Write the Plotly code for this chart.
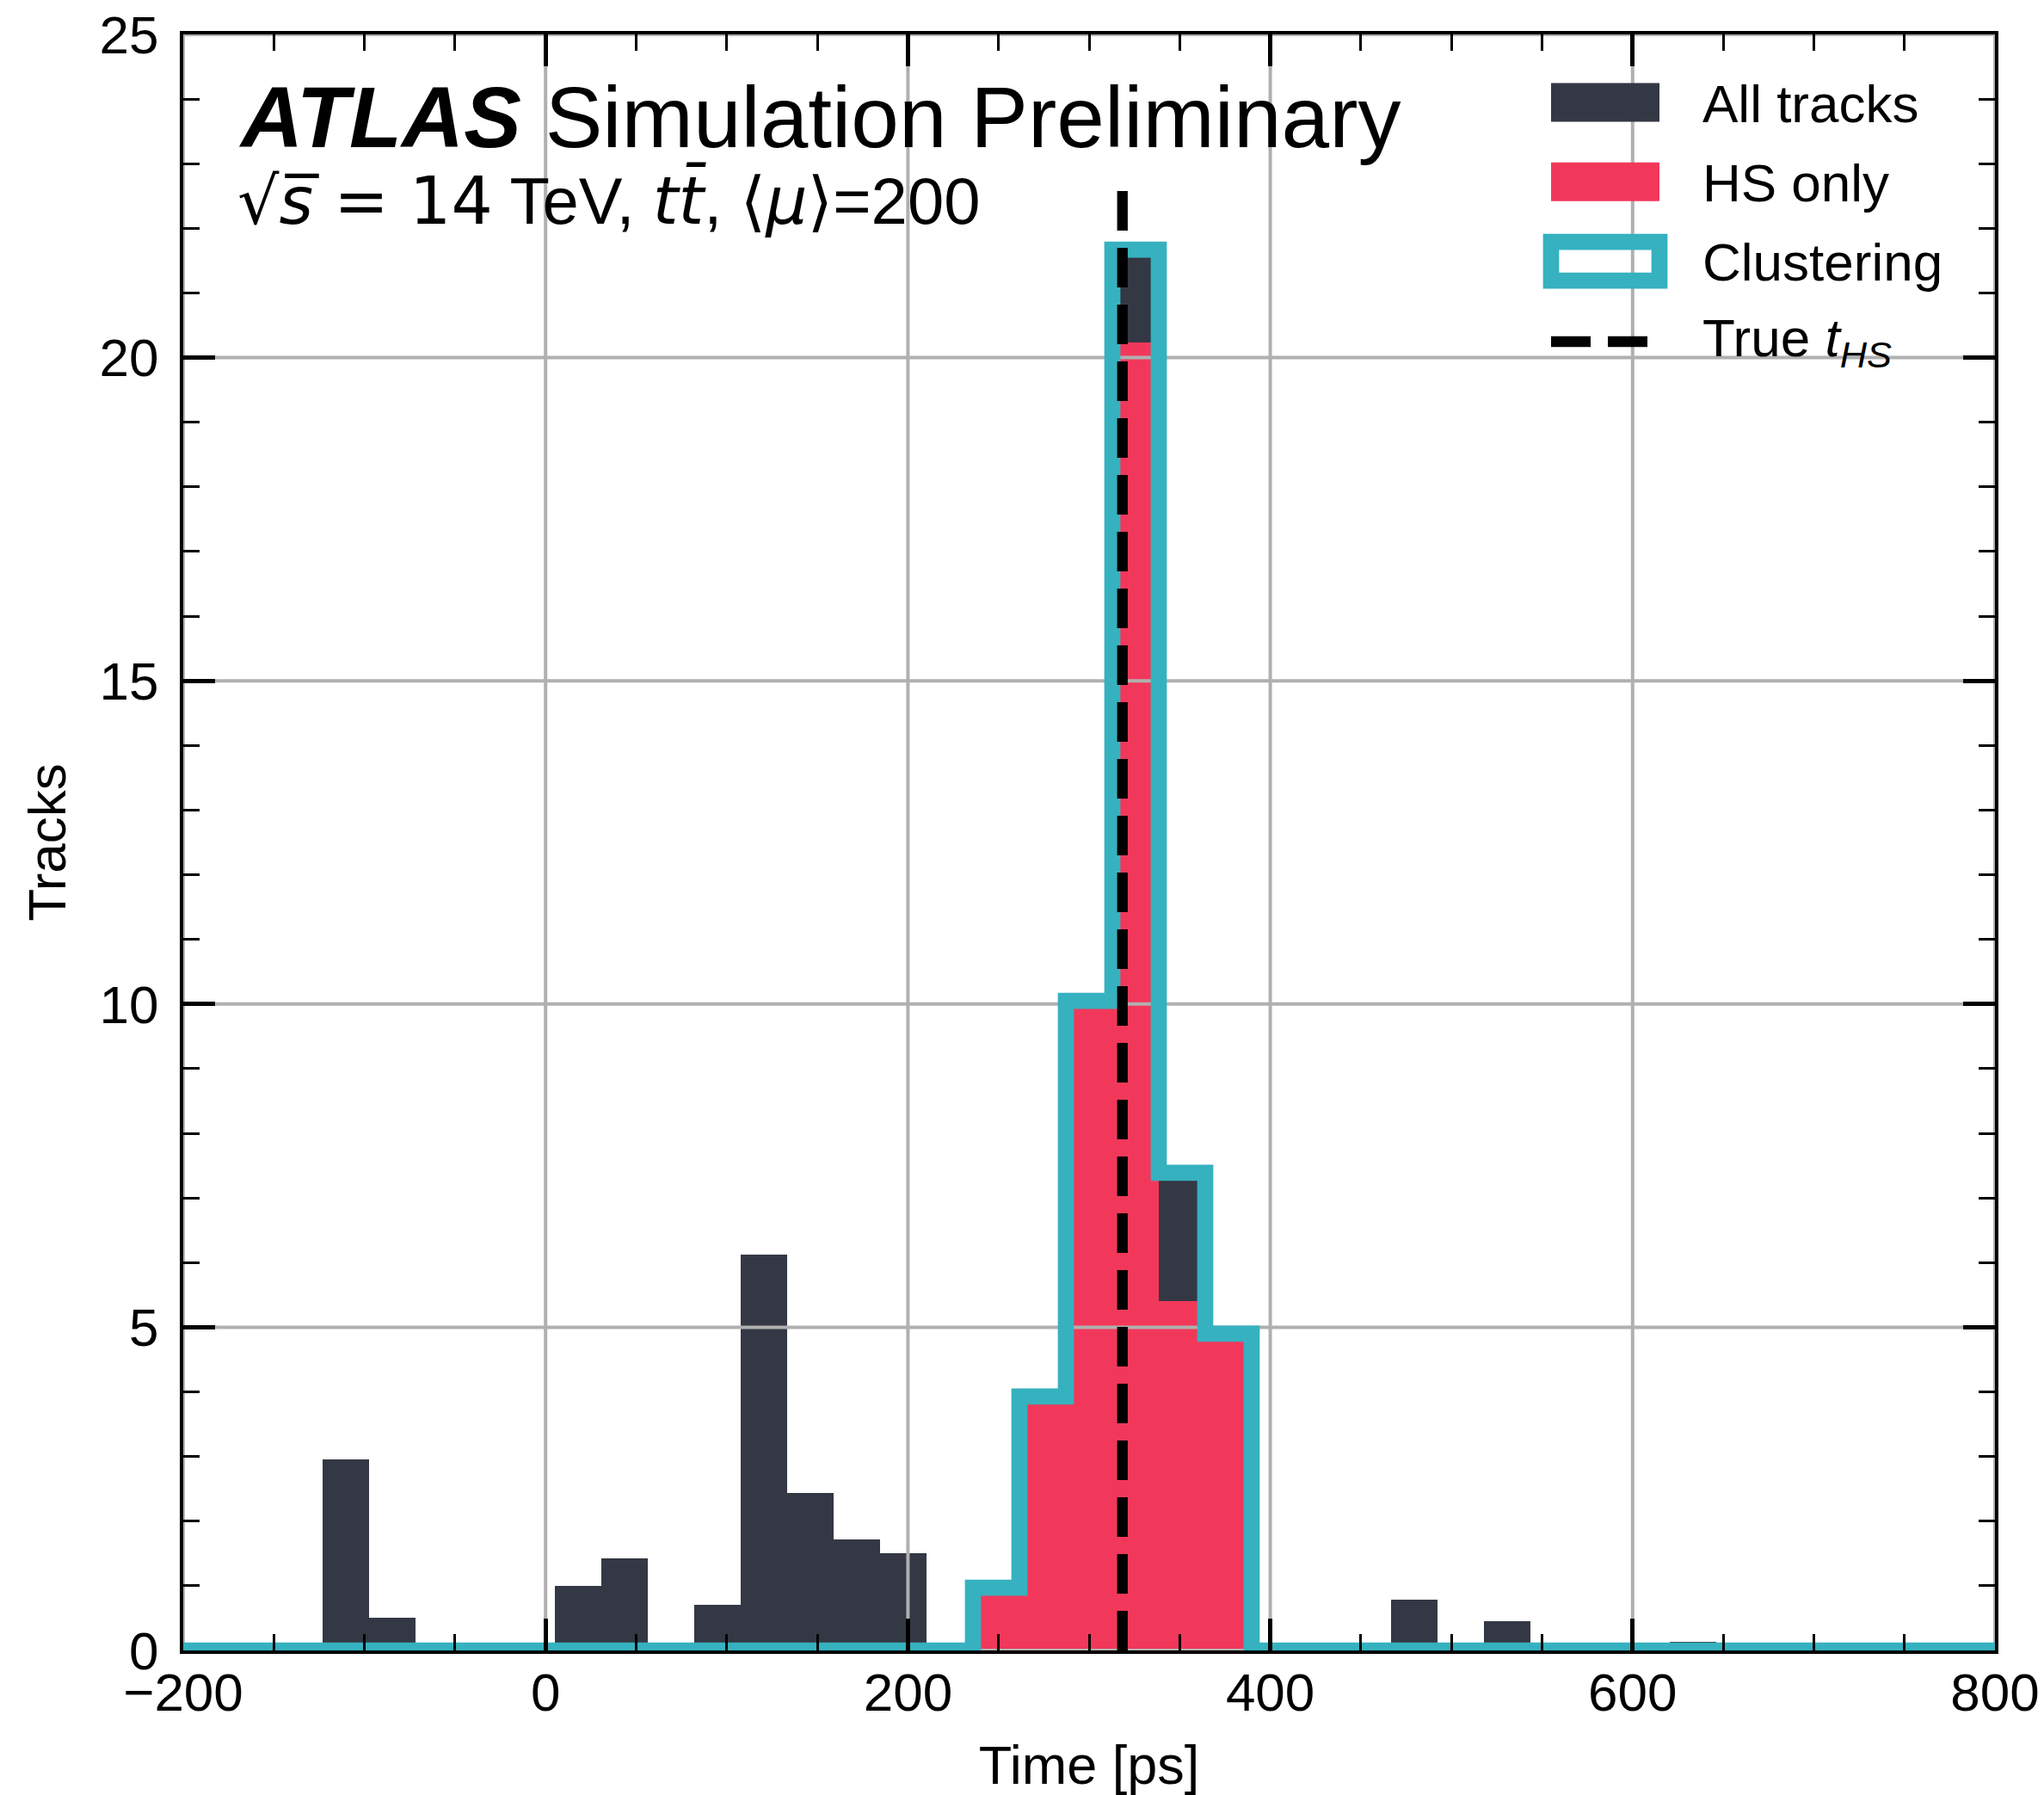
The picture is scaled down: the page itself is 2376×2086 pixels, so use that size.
import numpy as np
import plotly.graph_objects as go

# ---------------- data ----------------
x_range = [-200, 800]
n_bins = 39
bin_edges = np.linspace(x_range[0], x_range[1], n_bins + 1)

all_tracks = [0, 0, 0, 2.96, 0.5, 0, 0, 0, 1.0, 1.43, 0, 0.7, 6.12, 2.43, 1.72, 1.5,
              0, 0.97, 3.93, 10.05, 21.67, 7.39, 4.9, 0, 0, 0, 0.79, 0, 0.45, 0,
              0, 0, 0.13, 0, 0, 0, 0, 0, 0]
hs_only = [0, 0, 0, 0, 0, 0, 0, 0, 0, 0, 0, 0, 0, 0, 0, 0,
           0, 0.97, 3.93, 10.05, 20.23, 5.41, 4.9, 0, 0, 0, 0, 0, 0, 0,
           0, 0, 0, 0, 0, 0, 0, 0, 0]
clustering = [0, 0, 0, 0, 0, 0, 0, 0, 0, 0, 0, 0, 0, 0, 0, 0,
              0, 0.97, 3.93, 10.05, 21.67, 7.39, 4.9, 0, 0, 0, 0, 0, 0, 0,
              0, 0, 0, 0, 0, 0, 0, 0, 0]
t_hs = 318.4
t_hs_line_top = 22.75

x_ticks = [-200, 0, 200, 400, 600, 800]
y_ticks = [0, 5, 10, 15, 20, 25]
y_range = [0, 25]

legend_labels = ["All tracks", "HS only", "Clustering", "True <i>t</i><sub><i>HS</i></sub>"]

# ---------------- style ----------------
C_DARK = "#343844"
C_RED = "#F2385A"
C_TEAL = "#36B1BF"
C_GRID = "#b0b0b0"
FONT = "Liberation Sans, Arial, sans-serif"

W, H = 2376, 2086
ML, MR, MT, MB = 213, 57, 40, 168
PW, PH = W - ML - MR, H - MT - MB

centers = 0.5 * (bin_edges[:-1] + bin_edges[1:])
bw = bin_edges[1] - bin_edges[0]

fig = go.Figure()
fig.add_trace(go.Bar(x=centers, y=all_tracks, width=bw, marker=dict(color=C_DARK, line=dict(width=0)),
                     name="All tracks", showlegend=False))
fig.add_trace(go.Bar(x=centers, y=hs_only, width=bw, marker=dict(color=C_RED, line=dict(width=0)),
                     name="HS only", showlegend=False))

# grid lines (drawn between filled histograms and lines, as in the original)
gx, gy = [], []
for xv in x_ticks:
    gx += [xv, xv, None]
    gy += [y_range[0], y_range[1], None]
for yv in y_ticks:
    gx += [x_range[0], x_range[1], None]
    gy += [yv, yv, None]
fig.add_trace(go.Scatter(x=gx, y=gy, mode="lines", line=dict(color=C_GRID, width=4),
                         hoverinfo="skip", showlegend=False))

# clustering step histogram
step_x = list(bin_edges)
step_y = list(clustering) + [clustering[-1]]
fig.add_trace(go.Scatter(x=step_x, y=step_y, mode="lines", line=dict(color=C_TEAL, width=18.7, shape="hv"),
                         name="Clustering", showlegend=False))

# true t_HS
fig.add_trace(go.Scatter(x=[t_hs, t_hs], y=[0, t_hs_line_top], mode="lines",
                         line=dict(color="black", width=12.3, dash="46px,20px"),
                         name="True t_HS", showlegend=False))

axis_common = dict(showline=True, linewidth=4.3, linecolor="black", mirror="allticks",
                   ticks="inside", tickcolor="black", tickwidth=4.5, ticklen=37,
                   showgrid=False, zeroline=False, layer="above traces", automargin=False,
                   tickfont=dict(family=FONT, size=62, color="black"))

fig.update_xaxes(range=x_range, tickvals=x_ticks, ticklabelstandoff=-9,
                 minor=dict(ticks="inside", dtick=50, ticklen=19, tickwidth=3.3, tickcolor="black", showgrid=False),
                 title=dict(text="Time [ps]", font=dict(family=FONT, size=63, color="black"), standoff=30),
                 **axis_common)
fig.update_yaxes(range=y_range, tickvals=y_ticks, ticklabelstandoff=12,
                 minor=dict(ticks="inside", dtick=1, ticklen=19, tickwidth=3.3, tickcolor="black", showgrid=False),
                 title=dict(text="Tracks", font=dict(family=FONT, size=62, color="black"), standoff=20),
                 **axis_common)

def px_x(p):
    return (p - ML) / PW

def px_y(p):
    return (H - MB - p) / PH

annotations = [
    dict(x=px_x(275), y=px_y(136), xref="paper", yref="paper", xanchor="left", yanchor="middle",
         text="<b><i>ATLAS</i></b> Simulation Preliminary", showarrow=False,
         font=dict(family=FONT, size=100, color="black")),
    dict(x=px_x(274), y=px_y(233), xref="paper", yref="paper", xanchor="left", yanchor="middle",
         text='<span style="font-family:DejaVu Sans">√<i>s̅</i> = 14</span> TeV, '
              '<span style="font-family:DejaVu Sans"><i>tt̄</i></span>, '
              '<span style="font-family:DejaVu Sans">⟨<i>μ</i>⟩</span>=200',
         showarrow=False, font=dict(family=FONT, size=76, color="black")),
]

row_c = [119, 211.3, 303.6, 396]
shapes = []
for i, lab in enumerate(legend_labels):
    annotations.append(dict(x=px_x(1977), y=px_y(row_c[i] + 1), xref="paper", yref="paper",
                            xanchor="left", yanchor="middle", text=lab, showarrow=False,
                            font=dict(family=FONT, size=62, color="black")))
shapes.append(dict(type="rect", xref="paper", yref="paper", x0=px_x(1803), x1=px_x(1929),
                   y0=px_y(row_c[0] - 22.5), y1=px_y(row_c[0] + 22.5), fillcolor=C_DARK,
                   line=dict(width=0), layer="above"))
shapes.append(dict(type="rect", xref="paper", yref="paper", x0=px_x(1803), x1=px_x(1929),
                   y0=px_y(row_c[1] - 22.5), y1=px_y(row_c[1] + 22.5), fillcolor=C_RED,
                   line=dict(width=0), layer="above"))
shapes.append(dict(type="rect", xref="paper", yref="paper", x0=px_x(1803), x1=px_x(1929),
                   y0=px_y(row_c[2] - 22.5), y1=px_y(row_c[2] + 22.5), fillcolor="rgba(0,0,0,0)",
                   line=dict(width=18.7, color=C_TEAL), layer="above"))
shapes.append(dict(type="line", xref="paper", yref="paper", x0=px_x(1803), x1=px_x(1917),
                   y0=px_y(row_c[3] + 1), y1=px_y(row_c[3] + 1),
                   line=dict(width=12.3, color="black", dash="46px,20px"), layer="above"))

fig.update_layout(width=W, height=H, margin=dict(l=ML, r=MR, t=MT, b=MB, pad=0, autoexpand=False),
                  paper_bgcolor="white", plot_bgcolor="white", barmode="overlay", bargap=0,
                  showlegend=False, annotations=annotations, shapes=shapes,
                  font=dict(family=FONT, color="black"))

fig.write_html("out.html")
